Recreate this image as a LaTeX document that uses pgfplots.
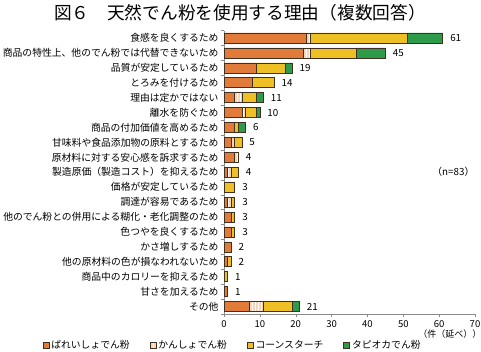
\documentclass[border=0pt]{standalone}
\usepackage{fontspec}
\setmainfont{Noto Sans CJK JP}
\usepackage{pgfplots}
\pgfplotsset{compat=1.18}
\usepackage{pgfplotstable}
\usetikzlibrary{patterns}

\pgfplotstableread{
row potato kansho corn tapioca total
0 23 1 27 10 61
1 22 2 13 8 45
2 9 0 8 2 19
3 8 0 6 0 14
4 3 2 4 2 11
5 5 1 3 1 10
6 3 0 1 2 6
7 2 1 2 0 5
8 3 1 0 0 4
9 1 1 2 0 4
10 0 0 3 0 3
11 1 1 1 0 3
12 2 0 1 0 3
13 2 0 1 0 3
14 2 0 0 0 2
15 1 0 1 0 2
16 0 0 1 0 1
17 1 0 0 0 1
18 7 4 8 2 21
}\datatable

\definecolor{potato}{HTML}{E07B39}
\definecolor{kansho}{HTML}{F8D3B8}
\definecolor{corn}{HTML}{EFC026}
\definecolor{tapioca}{HTML}{2E9B4A}
\definecolor{edge}{HTML}{3F3020}
\definecolor{axisgray}{HTML}{8A8A8A}

\begin{document}
\begin{tikzpicture}
\useasboundingbox (0,0) rectangle (481pt,351pt);
\node[font=\fontsize{17.7}{20}\selectfont] at (240pt,338pt) {図６　天然でん粉を使用する理由（複数回答）};
\begin{axis}[
  at={(224pt,37pt)}, anchor=south west,
  scale only axis, width=251pt, height=283.5pt,
  xbar stacked, bar width=10pt,
  y dir=reverse,
  xmin=0, xmax=70, ymin=-0.5, ymax=18.5,
  xtick={0,10,...,70},
  ytick={0,...,18},
  yticklabels={食感を良くするため,商品の特性上、他のでん粉では代替できないため,品質が安定しているため,とろみを付けるため,理由は定かではない,離水を防ぐため,商品の付加価値を高めるため,甘味料や食品添加物の原料とするため,原材料に対する安心感を訴求するため,製造原価（製造コスト）を抑えるため,価格が安定しているため,調達が容易であるため,他のでん粉との併用による糊化・老化調整のため,色つやを良くするため,かさ増しするため,他の原材料の色が損なわれないため,商品中のカロリーを抑えるため,甘さを加えるため,その他},
  minor ytick={-0.5,0.5,...,18.5},
  axis x line*=bottom, axis y line*=left,
  axis line style={draw=axisgray, line width=0.6pt, -},
  tick align=outside,
  major tick length=3pt, minor tick length=3pt,
  major y tick style={draw=none},
  minor y tick style={draw=axisgray},
  major x tick style={draw=axisgray},
  /pgf/number format/assume math mode=true,
  xticklabel style={font=\fontsize{9.5}{11}\selectfont},
  yticklabel style={font=\fontsize{9.8}{11}\selectfont, xshift=1pt},
  legend columns=4,
  legend style={draw=none, fill=none, at={(axis description cs:-0.735,0)}, anchor=north west, yshift=-22pt, font=\fontsize{9.8}{11}\selectfont, /tikz/every even column/.append style={column sep=18pt}},
  legend image code/.code={\draw[#1] (0pt,-3pt) rectangle (6pt,3pt);},
  clip=false,
]
\addplot[fill=potato, draw=edge, line width=0.6pt] table[x=potato, y=row]{\datatable};
\addplot[fill=kansho, draw=edge, line width=0.6pt, postaction={pattern=vertical lines, pattern color=white}] table[x=kansho, y=row]{\datatable};
\addplot[fill=corn, draw=edge, line width=0.6pt] table[x=corn, y=row]{\datatable};
\addplot[fill=tapioca, draw=edge, line width=0.6pt] table[x=tapioca, y=row]{\datatable};
\legend{ばれいしょでん粉,かんしょでん粉,コーンスターチ,タピオカでん粉}
\node[anchor=east, font=\fontsize{9.8}{11}\selectfont] at (axis cs:70.8,9) {（n=83）};
\node[anchor=north, inner sep=0pt, font=\fontsize{9}{11}\selectfont] at ([yshift=-16pt]rel axis cs:0.9,0) {（件（延べ））};
\end{axis}
\begin{axis}[
  at={(224pt,37pt)}, anchor=south west,
  scale only axis, width=251pt, height=283.5pt,
  y dir=reverse, hide axis,
  xmin=0, xmax=70, ymin=-0.5, ymax=18.5,
  clip=false,
]
\addplot[only marks, mark=none, nodes near coords, point meta=explicit symbolic,
  nodes near coords style={anchor=west, xshift=4pt, text=black, font=\fontsize{9.8}{11}\selectfont}]
  table[x=total, y=row, meta=total]{\datatable};
\end{axis}
\end{tikzpicture}
\end{document}
